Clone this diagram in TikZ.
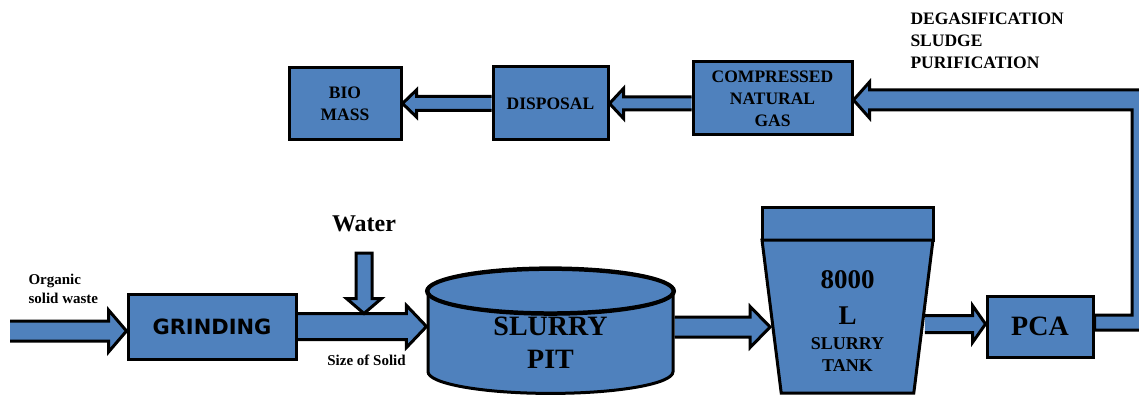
\documentclass[tikz,border=0pt]{standalone}
\usepackage{fontspec}
\setmainfont{Liberation Serif}
\newfontfamily\grindfont{DejaVu Sans}
\usetikzlibrary{shapes.geometric,calc,positioning,backgrounds}
\definecolor{pipeblue}{HTML}{4F81BD}
\newcommand{\fs}[2]{\fontsize{#1}{#2}\selectfont}
% block arrow: [close] start, end, shaft half width, head half width, head length
\newcommand{\barrow}[6][]{%
    \coordinate (ba-s) at (#2);
    \coordinate (ba-e) at (#3);
    \coordinate (ba-h) at ($(ba-e)!#6pt!(ba-s)$);
    \filldraw[pipeline] ($(ba-s)!#4pt!90:(ba-e)$) -- ($(ba-h)!#4pt!-90:(ba-s)$)
        -- ($(ba-h)!#5pt!-90:(ba-s)$) -- (ba-e) -- ($(ba-h)!#5pt!90:(ba-s)$)
        -- ($(ba-h)!#4pt!90:(ba-s)$) -- ($(ba-s)!#4pt!-90:(ba-e)$) #1;
}
\tikzset{
    unitbox/.style ={rectangle, draw, fill=pipeblue, inner sep=0pt, align=center, font=\bfseries\fs{17.5}{22}},
    pitbox/.style = {cylinder, shape border rotate=90, aspect=0.38, draw, fill=pipeblue, inner sep=0pt, align=center, font=\bfseries\fs{28}{33}},
    tankbox/.style = {trapezium, shape border rotate=180, trapezium angle=80, trapezium stretches body, draw, fill=pipeblue, inner sep=0pt, align=center, font=\bfseries\fs{18}{22}},
    note/.style = {inner sep=0pt, align=left, font=\bfseries\fs{15}{19}},
    pipeline/.style = {draw, fill=pipeblue, line width=3pt, line join=miter}
}

\begin{document}
\begin{tikzpicture}[x=1pt,y=-1pt,line width=3pt]
    \useasboundingbox (0,0) rectangle (1139,395);

    \node[unitbox, minimum width=168, minimum height=65] (grind) at (212,326.5) {\grindfont\fs{21}{25}GRINDING};
    \node[pitbox, minimum width=245, minimum height=124] (pit) at (550.5,343) {SLURRY\\PIT};
    \node[unitbox, minimum width=171, minimum height=32] (lid) at (847.5,224) {};
    \node[tankbox, minimum width=171, minimum height=153] (tank) at (847.5,316.5)
        {\fs{27}{34}\rule{0pt}{26pt}8000\\[14pt]\fs{27}{34}L\\[3pt]SLURRY\\TANK};
    \node[unitbox, minimum width=106, minimum height=61, font=\bfseries\fs{28}{33}] (pca) at (1040,326.5) {PCA};
    \node[unitbox, minimum width=159, minimum height=73] (cng) at (772.5,98.5) {COMPRESSED\\NATURAL\\GAS};
    \node[unitbox, minimum width=115, minimum height=73] (disp) at (550.5,103.5) {DISPOSAL};
    \node[unitbox, minimum width=112, minimum height=72] (bio) at (345,104) {BIO\\MASS};

    % front rim of the pit
    \coordinate (pitc) at ($(pit.before top)!.5!(pit.after top)$);
    \draw let \p1 = ($(pit.after top)-(pitc)$), \p2 = ($(pit.top)-(pitc)$) in
        (pitc) ellipse [x radius={veclen(\x1,\y1)}, y radius={veclen(\x2,\y2)}];

    \coordinate (feed) at (10,331);
    \coordinate (wtop) at (364,253);
    \coordinate (pq) at ($(pit.east)+(0,-16)$);
    \coordinate (tq) at ($(tank.east |- pca.west)+(0,-2.5)$);
    \coordinate (cq) at ($(cng.west)+(0,5)$);
    \coordinate (r1) at ($(pca.east)+(0,-11.5)$);
    \coordinate (gas) at ($(cng.east)+(0,1.5)$);

    \node[note, anchor=west] (organic) at (27,288.5) {Organic\\solid waste};
    \node[note, font=\bfseries\fs{24}{28}, above=20pt of wtop] (water) {Water};
    \node[note] (size) at (366.5,360) {Size of Solid};
    \node[note, anchor=west, font=\bfseries\fs{17.5}{22}] (degas) at (909,41) {DEGASIFICATION\\SLUDGE\\PURIFICATION};

    \begin{scope}[on background layer]
        \barrow{feed}{feed -| grind.west}{10}{21}{18}
        \barrow{grind.east}{grind.east -| pit.west}{13}{21}{20}
        \barrow[-- cycle]{wtop}{$(wtop |- grind.east)+(0,-13)$}{8}{17.5}{15}
        \barrow{pq}{pq -| tank.west}{10}{20.5}{20}
        \barrow{tq}{tq -| pca.west}{8.5}{18.5}{13}
        \barrow{cq}{cq -| disp.east}{6.5}{15}{14}
        \barrow{disp.west}{disp.west -| bio.east}{7}{13.5}{14}
        \filldraw[pipeline] (1139,330) -- ($(r1)+(0,15)$) -- (r1) -- (1132,315) -- (1132,110)
            -- ($(gas)+(16,10)$) -- ($(gas)+(16,18)$) -- (gas) -- ($(gas)+(16,-18)$)
            -- ($(gas)+(16,-10)$) -- (1139,90);
    \end{scope}
\end{tikzpicture}
\end{document}
